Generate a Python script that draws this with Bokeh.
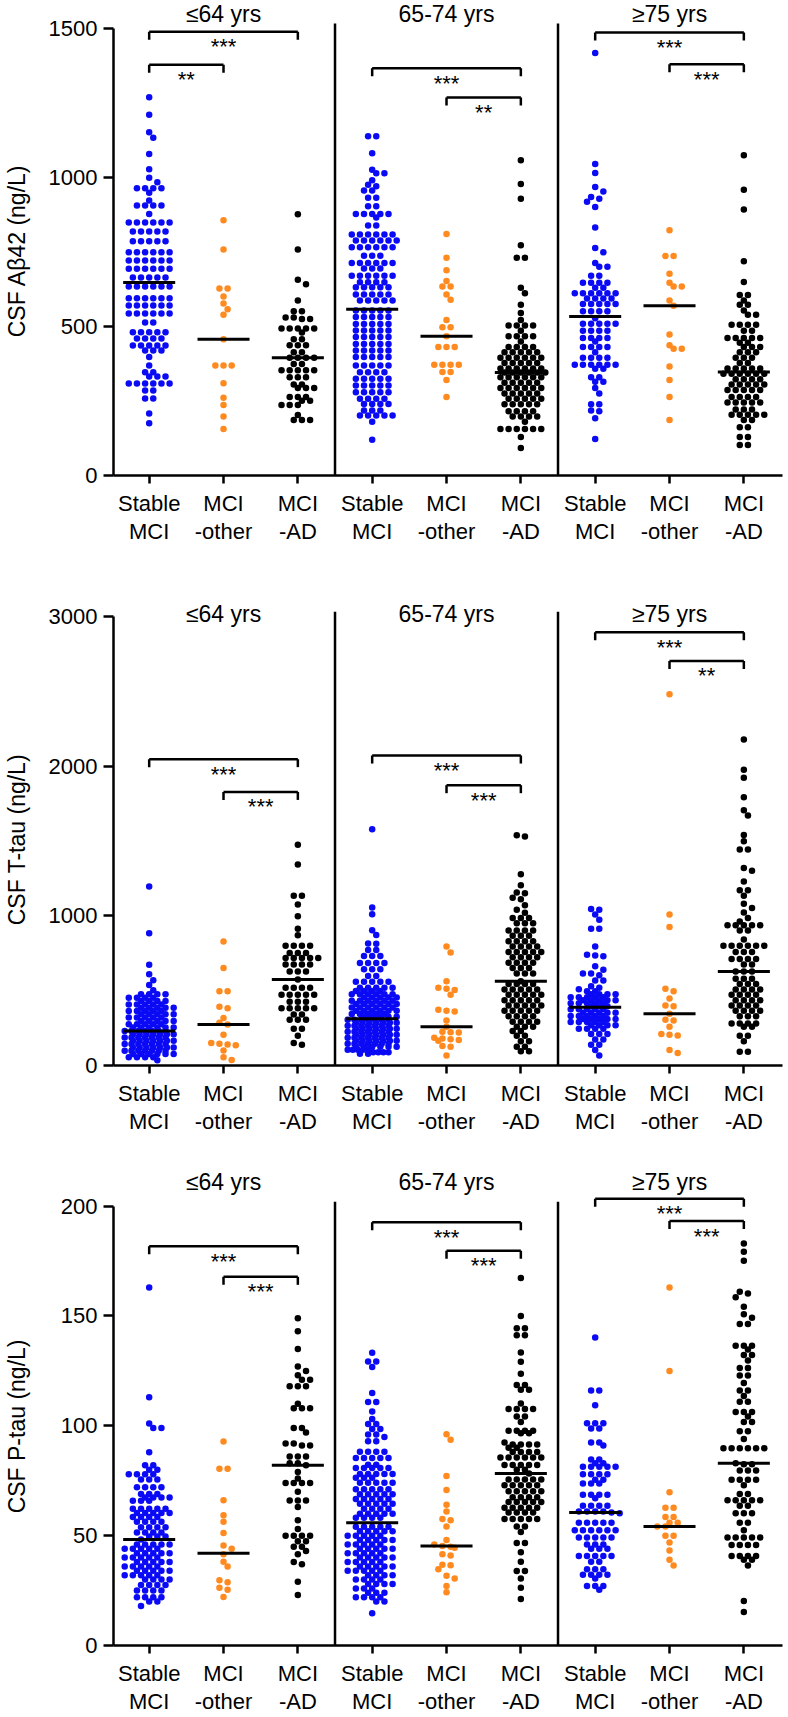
import numpy as np
from bokeh.plotting import figure
from bokeh.models import FixedTicker, Range1d
from bokeh.layouts import column
from bokeh.embed import file_html
from bokeh.resources import INLINE
from bokeh.core.properties import value

FONT = "Liberation Sans"

categories = ["Stable\nMCI", "MCI\n-other", "MCI\n-AD"] * 3
age_groups = ["≤64 yrs", "65-74 yrs", "≥75 yrs"]
group_colors = ["#0a0af5", "#ff8a1f", "#000000"] * 3

# ---------------- CSF Abeta42 (ng/L) ----------------
ab42_g1 = [1268, 1209, 1151, 1132, 1078, 1027, 998, 983, 963, 963, 963, 963, 948, 922, 905, 905, 905, 905, 877,
           848, 848, 848, 848, 848, 848, 818, 818, 818, 818, 818, 785, 785, 785, 785, 785,
           748, 748, 748, 748, 748, 748, 721, 721, 721, 721, 721, 721, 693, 693, 693, 693, 693, 693,
           664, 664, 664, 664, 664, 634, 634, 634, 634, 634, 634, 594, 594, 594, 594, 594, 594,
           570, 570, 570, 570, 570, 570, 543, 543, 543, 543, 543, 543, 513, 513, 480, 480, 480, 480, 480,
           459, 459, 459, 459, 436, 436, 436, 436, 436, 419, 419, 419, 397, 369, 346, 346, 332, 332, 332,
           308, 308, 308, 308, 308, 308, 285, 285, 258, 258, 208, 175]
ab42_g2 = [856, 758, 627, 627, 600, 577, 557, 539, 457, 369, 369, 369, 309, 261, 236, 198, 156]
ab42_g3 = [876, 758, 656, 641, 587, 551, 551, 530, 530, 525, 525, 493, 493, 493, 493, 493, 479, 457, 457,
           437, 437, 437, 413, 413, 395, 395, 395, 395, 374, 374, 353, 353, 353, 353, 353, 329, 329, 329,
           305, 305, 293, 293, 293, 263, 263, 263, 251, 251, 236, 236, 236, 203, 186, 186, 186]
ab42_g4 = [1137, 1137, 1080, 1025, 1013, 1013, 990, 975, 970, 955, 955, 931, 931, 903, 903,
           877, 877, 877, 877, 877, 865, 838, 838, 808, 808, 808, 808, 808, 808, 788, 788, 788, 788, 788, 788,
           765, 765, 765, 765, 765, 765, 737, 737, 737, 712, 712, 712, 712, 712, 712, 694, 694, 694,
           670, 670, 670, 670, 670, 670, 648, 648, 648, 648, 631, 631, 631, 631, 631, 607, 607, 607, 607, 607,
           587, 587, 587, 587, 587, 553, 553, 553, 553, 553, 531, 531, 531, 531, 531, 508, 508, 508, 508, 508,
           486, 486, 486, 486, 486, 464, 464, 464, 464, 464, 441, 441, 441, 441, 441, 419, 419, 419, 419, 419,
           397, 397, 397, 397, 397, 369, 369, 369, 369, 369, 346, 346, 346, 346, 324, 324, 324, 324, 324,
           302, 302, 302, 302, 302, 279, 279, 279, 279, 279, 257, 257, 257, 257, 240, 240, 240, 240,
           218, 218, 218, 201, 201, 201, 201, 201, 180, 120]
ab42_g5 = [810, 730, 688, 652, 634, 634, 607, 589, 521, 497, 497, 467, 431, 431, 431, 371, 371, 371, 371,
           347, 347, 320, 263]
ab42_g6 = [1057, 977, 928, 772, 730, 730, 629, 611, 572, 545, 521, 503, 503, 503, 503, 485, 467, 467, 467, 467,
           449, 431, 431, 431, 431, 413, 413, 413, 413, 413, 395, 395, 395, 395, 395, 395, 377, 377, 377, 377, 377,
           359, 359, 359, 359, 359, 359, 345, 345, 345, 345, 345, 345, 329, 329, 329, 329, 329, 329,
           311, 311, 311, 311, 311, 293, 293, 293, 293, 293, 293, 275, 275, 275, 275, 275, 257, 257, 257, 257, 257,
           239, 239, 239, 239, 239, 215, 215, 215, 215, 198, 198, 198, 198, 180, 156, 156, 156, 156, 156, 156, 129, 92]
ab42_g7 = [1416, 1044, 1014, 967, 952, 934, 928, 918, 900, 831, 763, 748, 712, 700, 700, 670, 670,
           646, 646, 646, 646, 629, 629, 611, 611, 611, 611, 611, 611, 593, 593, 593, 593, 575, 575, 575, 575, 575,
           551, 551, 551, 551, 527, 509, 509, 509, 509, 509, 485, 485, 485, 485, 461, 461, 461, 461, 449,
           431, 431, 431, 431, 413, 395, 395, 395, 395, 371, 371, 371, 371, 371, 371, 358, 358, 329, 329,
           314, 314, 293, 275, 239, 239, 218, 215, 192, 122]
ab42_g8 = [822, 736, 736, 676, 646, 634, 634, 587, 569, 473, 437, 425, 425, 365, 320, 263, 186]
ab42_g9 = [1074, 958, 892, 718, 649, 605, 605, 587, 572, 572, 553, 539, 539, 505, 505, 505, 505, 485, 485,
           461, 461, 461, 461, 461, 445, 445, 431, 431, 431, 413, 413, 413, 395, 395, 395, 377, 377,
           359, 359, 359, 359, 359, 341, 341, 341, 341, 341, 341, 323, 323, 323, 323, 305, 305, 305, 305, 305,
           287, 287, 287, 287, 287, 263, 263, 263, 263, 245, 245, 245, 245, 245, 221, 221, 221,
           204, 204, 204, 204, 204, 186, 186, 162, 162, 129, 129, 102, 102]
ab42_medians = [647, 457, 395, 557, 467, 345, 533, 569, 347]

# ---------------- CSF T-tau (ng/L) ----------------
ttau_g1 = [1195, 883, 672, 610, 570, 538, 503, 475, 475, 475, 475, 452, 452, 452, 452, 430, 430, 430, 430,
           408, 408, 408, 408, 408, 386, 386, 386, 386, 386, 364, 364, 364, 364, 364, 342, 342, 342, 342, 342,
           320, 320, 320, 320, 320, 298, 298, 298, 298, 298, 276, 276, 276, 276, 276, 254, 254, 254, 254, 254, 254,
           231, 231, 231, 231, 231, 231, 231, 209, 209, 209, 209, 209, 209, 209, 187, 187, 187, 187, 187, 187, 187,
           165, 165, 165, 165, 165, 165, 165, 143, 143, 143, 143, 143, 143, 143, 121, 121, 121, 121, 121, 121, 121,
           99, 99, 99, 99, 99, 99, 99, 77, 77, 77, 77, 77, 77, 55, 55, 55, 55, 35]
ttau_g2 = [828, 651, 496, 496, 393, 382, 317, 285, 274, 205, 150, 145, 140, 135, 100, 55, 36]
ttau_g3 = [1474, 1343, 1133, 1133, 1076, 997, 913, 870, 799, 799, 799, 799, 751, 751, 751, 718, 718, 718, 718, 718,
           675, 675, 675, 675, 627, 627, 627, 575, 520, 520, 520, 520, 472, 472, 472, 472, 472, 425, 425, 425,
           382, 382, 382, 382, 382, 341, 341, 305, 305, 305, 246, 246, 198, 150, 138]
ttau_g4 = [1578, 1055, 1010, 903, 872, 814, 813, 772, 772, 732, 732, 732, 685, 685, 685, 685, 643, 643, 643,
           598, 598, 560, 560, 560, 560, 560, 520, 520, 520, 520, 520, 498, 498, 498, 498,
           476, 476, 476, 476, 476, 476, 454, 454, 454, 454, 454, 432, 432, 432, 432, 432, 432,
           410, 410, 410, 410, 410, 410, 388, 388, 388, 388, 388, 388, 366, 366, 366, 366, 366, 366,
           344, 344, 344, 344, 344, 326, 326, 326, 326, 326,
           305, 305, 305, 305, 305, 305, 305, 285, 285, 285, 285, 285, 285, 285, 265, 265, 265, 265, 265, 265, 265,
           245, 245, 245, 245, 245, 245, 245, 225, 225, 225, 225, 225, 225, 225, 205, 205, 205, 205, 205, 205, 205,
           185, 185, 185, 185, 185, 185, 185, 165, 165, 165, 165, 165, 165, 165, 145, 145, 145, 145, 145, 145, 145,
           125, 125, 125, 125, 125, 125, 105, 105, 105, 105, 105, 88, 88, 88, 88, 79, 79]
ttau_g5 = [794, 754, 563, 520, 512, 505, 472, 372, 366, 360, 300, 258, 225, 222, 220, 185, 180, 175, 170, 165,
           130, 125, 67]
ttau_g6 = [1538, 1530, 1278, 1204, 1155, 1150, 1120, 1110, 1070, 1040, 1020, 985, 985, 985, 950, 950, 950,
           902, 902, 902, 902, 866, 866, 866, 830, 830, 830, 830, 794, 794, 794, 794, 758, 758, 758, 758, 758,
           723, 723, 723, 723, 687, 687, 687, 687, 651, 651, 651, 615, 615, 615, 563,
           544, 544, 544, 544, 508, 508, 508, 508, 508, 472, 472, 472, 472, 472, 436, 436, 436, 436, 436,
           401, 401, 401, 401, 401, 365, 365, 365, 365, 365, 329, 329, 329, 329, 293, 293, 293, 293,
           258, 258, 258, 230, 230, 198, 198, 162, 162, 126, 126, 95, 95]
ttau_g7 = [1045, 1040, 1009, 973, 913, 913, 794, 740, 735, 730, 663, 639, 615, 615, 603, 568, 568, 530, 520, 510,
           496, 496, 475, 475, 475, 475, 455, 455, 455, 455, 455, 435, 435, 435, 435, 435, 415, 415, 415, 415, 415,
           395, 395, 395, 375, 375, 375, 375, 375, 353, 353, 353, 353, 353, 331, 331, 331, 331, 331,
           310, 310, 310, 310, 310, 290, 290, 290, 290, 290, 268, 268, 268, 268, 246, 246, 246, 246,
           210, 210, 210, 174, 174, 138, 138, 103, 67]
ttau_g8 = [2480, 1009, 925, 513, 496, 448, 401, 395, 346, 305, 300, 258, 210, 205, 200, 103, 83]
ttau_g9 = [2177, 1975, 1922, 1791, 1705, 1670, 1539, 1498, 1443, 1443, 1319, 1300, 1228, 1171, 1171, 1133,
           1080, 1052, 1021, 985, 961, 937, 937, 937, 937, 937, 901, 901, 842, 799, 799, 799, 799, 799, 799,
           758, 758, 758, 711, 711, 711, 711, 675, 675, 627, 627, 627, 580, 580, 580, 544, 544, 544,
           508, 508, 508, 508, 472, 472, 472, 472, 436, 436, 436, 436, 401, 401, 401, 401, 365, 365, 365, 365,
           329, 329, 329, 281, 281, 281, 281, 258, 258, 198, 198, 162, 91, 91]
ttau_medians = [231, 274, 575, 312, 258, 563, 389, 346, 627]

# ---------------- CSF P-tau (ng/L) ----------------
ptau_g1 = [163, 113, 101, 99, 99, 88, 82, 82, 80, 80, 78, 78, 78, 78, 75.6, 75.6, 75.6, 72, 72, 72, 72,
           69, 69, 69, 67.4, 67.4, 67.4, 67.4, 65.9, 65.9, 65.9, 62.2, 62.2, 62.2, 62.2, 62.2,
           60.3, 60.3, 60.3, 60.3, 60.3, 58.5, 58.5, 58.5, 58.5, 56.3, 56.3, 56.3, 56.3, 53.8, 53.8, 53.8, 53.8,
           51.4, 51.4, 51.4, 51.4, 49.6, 49.6, 49.6, 48.3, 46, 46, 46, 46, 46, 44, 44, 44, 44, 44, 42, 42, 42, 42, 42,
           40, 40, 40, 40, 40, 38, 38, 38, 38, 38, 36, 36, 36, 36, 36, 34, 34, 34, 34, 34, 32, 32, 32, 32, 32,
           30, 30, 30, 30, 27.5, 27.5, 27.5, 27.5, 25, 25, 25, 25, 22, 22, 22, 22, 20, 20, 18]
ptau_g2 = [92.9, 80.5, 80.5, 66.1, 59.3, 56.3, 51.2, 45.5, 44.0, 41.5, 38.1, 36.0, 29.7, 28.8, 26.3, 25.4, 22.1]
ptau_g3 = [149, 143, 135, 127, 125, 123, 121, 121, 118, 118, 118, 110, 108, 108, 108, 99, 99, 97, 92, 92, 91, 91,
           86, 86, 86, 83, 83, 82, 79, 76, 74, 74, 74, 74, 70, 66, 66, 66, 63, 57, 53, 50, 50, 50, 50,
           47.5, 47.5, 45, 45, 43, 41.5, 38, 37, 29, 23]
ptau_g4 = [133.2, 129.3, 129.3, 126.8, 114.9, 110.8, 110.8, 106.5, 103.1, 100.8, 100.8, 98.6, 98.6, 96, 96, 94.9,
           93, 93, 88.2, 88.2, 88.2, 88.2, 85.3, 85.3, 85.3, 85.3, 85.3, 82.3, 82.3, 80.8, 80.8, 80.8, 80.8, 80.8,
           78.1, 78.1, 78.1, 78.1, 78.1, 76.4, 76.4, 76.4, 74.1, 74.1, 74.1, 74.1, 74.1, 71.1, 71.1, 71.1, 71.1, 71.1,
           68.9, 68.9, 68.9, 68.9, 68.9, 66.7, 66.7, 66.7, 66.7, 66.7, 64.5, 64.5, 64.5, 64.5, 64.5,
           62.2, 62.2, 62.2, 62.2, 60, 60, 60, 60, 60, 58.2, 58.2, 58.2, 58.2,
           54, 54, 54, 54, 54, 52, 52, 52, 52, 52, 50, 50, 50, 50, 50, 48, 48, 48, 48, 48, 46, 46, 46, 46, 46,
           44, 44, 44, 44, 44, 42, 42, 42, 42, 42, 40, 40, 40, 40, 40, 38, 38, 38, 38, 38, 36, 36, 36, 36, 36,
           34, 34, 34, 34, 34, 32, 32, 32, 32, 30, 30, 30, 30, 28, 28, 28, 28, 26, 26, 26, 24, 24, 24,
           22, 22, 22, 22, 20, 20, 14.7]
ptau_g5 = [96.1, 93.7, 77.1, 70.8, 64.1, 61.0, 57.6, 57.0, 54.2, 48, 46, 45.3, 44.9, 44.5, 41.5, 41.0, 36.8, 36.5,
           34.7, 31.7, 30.5, 27.1, 24.2]
ptau_g6 = [167.3, 150, 144.4, 144.4, 141.2, 141.2, 133.4, 129.2, 123.7, 118.6, 118.6, 116.4, 116.4, 110.2,
           107.6, 107.6, 107.6, 107.6, 104.2, 104.2, 101.7, 97.8, 97.8, 97.8, 97.8, 96.6, 96.6, 92.4,
           91.5, 91.5, 91.5, 91.5, 90, 90, 88.1, 88.1, 88.1, 88.1, 85.6, 85.6, 85.6, 85.6, 85.6, 85.6,
           82.2, 82.2, 82.2, 82.2, 82.2, 80, 80, 78.3, 75.6, 75.6, 75.6, 75.6, 75.6, 72.9, 72.9, 72.9, 72.9, 72.9,
           70.2, 70.2, 70.2, 70.2, 70.2, 67.5, 67.5, 67.5, 67.5, 65.3, 65.3, 65.3, 65.3, 65.3, 62.7, 62.7, 62.7, 62.7, 62.7,
           60.5, 60.5, 60.5, 60.5, 57.6, 57.6, 57.6, 57.6, 57.6, 54.2, 54.2, 51.7, 46.6, 46.6, 42.4, 38.1, 33.9, 33.9,
           30.5, 26.3, 21.2]
ptau_g7 = [140.2, 116.1, 116.1, 109.3, 101.2, 101.2, 101.2, 98.8, 98.8, 92.4, 92.4, 91, 84.7, 84.7, 83, 83,
           81.4, 81.4, 81.4, 81.4, 81.4, 78, 78, 78, 78, 75.4, 75.4, 73.7, 73.7, 73.7, 68.6, 68.6, 68.6, 68.6, 67,
           63.6, 63.6, 63.6, 63.6, 61, 61, 61, 61, 60.5, 60.2, 55.9, 55.9, 55.9, 55.9, 55.9,
           52.5, 52.5, 52.5, 52.5, 52.5, 52.5, 49.2, 49.2, 49.2, 49.2, 49.2, 46, 46, 46, 44, 44, 44,
           40.7, 40.7, 40.7, 40.7, 40.7, 38.1, 38.1, 34.7, 34.7, 34.7, 32.2, 32.2, 32.2, 32.2, 30.5,
           27.1, 27.1, 27.1, 25.4]
ptau_g8 = [163, 124.9, 69.8, 62.7, 62.7, 58.5, 58.5, 55.9, 55.9, 54.2, 54.2, 50, 50, 46.9, 43.2, 39, 36.4]
ptau_g9 = [183, 179.2, 175.1, 161, 160.2, 158.5, 154.2, 150.8, 149.2, 146.3, 146.3, 136.4, 136.4, 136.4, 134.7,
           132.2, 132.2, 129.7, 126.3, 126.3, 122.9, 122.9, 119.5, 116.1, 116.1, 113.6, 111, 111,
           106.3, 106.3, 106.3, 104.2, 101.7, 101.7, 97.5, 97.5, 94, 89.8, 89.8, 89.8, 89.8, 89.8, 89.8, 83,
           82.5, 82.5, 79.7, 79.7, 79.7, 75.4, 75.4, 75.4, 75.4, 72.9, 69, 69, 66.1, 66.1, 66.1, 66.1, 66.1,
           63.6, 63.6, 60.2, 60.2, 60.2, 55.9, 55.9, 52.5, 49.2, 49.2, 49.2, 49.2, 49.2, 45.8, 45.8, 45.8, 45.8,
           40.7, 40.7, 40.7, 40.7, 39, 39, 36.4, 20.3, 15.3]
ptau_medians = [48.3, 42, 82, 55.9, 45.3, 78.3, 60.5, 54.2, 83]

# significance brackets: (from group, to group, bracket level, label)
ab42_brackets = [(1, 3, 1488, "***"), (1, 2, 1377, "**"), (4, 6, 1365, "***"), (5, 6, 1267, "**"),
                 (7, 9, 1485, "***"), (8, 9, 1379, "***")]
ttau_brackets = [(1, 3, 2046, "***"), (2, 3, 1827, "***"), (4, 6, 2070, "***"), (5, 6, 1872, "***"),
                 (7, 9, 2893, "***"), (8, 9, 2702, "**")]
ptau_brackets = [(1, 3, 181.7, "***"), (2, 3, 167.8, "***"), (4, 6, 192.7, "***"), (5, 6, 179.7, "***"),
                 (7, 9, 203.4, "***"), (8, 9, 193.2, "***")]

ab42_ticks = [0, 500, 1000, 1500]
ttau_ticks = [0, 1000, 2000, 3000]
ptau_ticks = [0, 50, 100, 150, 200]

# ---------------- layout helpers ----------------
FIG_W = 788
BORDER_L = 110
BORDER_R = 6
X0, X1 = 0.52, 9.52
PX_PER_X = (FIG_W - BORDER_L - BORDER_R) / (X1 - X0)
MAX_HALF = 24.7
NBSP = "\u00a0"


def swarm_offsets(vals, scale, step=8.2, dmin=6.2, thresh=2.6):
    v = np.asarray(vals, dtype=float)
    ypx = v * scale
    order = np.argsort(-v, kind="stable")
    rows = []
    for i in order:
        if rows and abs(ypx[rows[-1][0]] - ypx[i]) <= thresh:
            rows[-1].append(i)
        else:
            rows.append([i])
    xs = np.zeros(len(v))
    placed = []
    for row in rows:
        m = len(row)
        if m <= 6:
            base = [(j - (m - 1) / 2.0) * step for j in range(m)]
        else:
            base = list(np.linspace(-2.5 * step, 2.5 * step, m))
        best = None
        for shift in (0.0, step / 2, -step / 2, step, -step):
            cand = [b + shift for b in base]
            if shift != 0.0 and max(abs(c) for c in cand) > MAX_HALF:
                continue
            pen = 0.0
            for k, i in enumerate(row):
                for (px, py) in placed:
                    dy = ypx[i] - py
                    if abs(dy) >= dmin:
                        continue
                    d = np.hypot(cand[k] - px, dy)
                    if d < dmin:
                        pen += dmin - d
            score = pen + 0.02 * abs(shift)
            if best is None or score < best[0]:
                best = (score, cand)
        for k, i in enumerate(row):
            xs[i] = best[1][k]
            placed.append((best[1][k], ypx[i]))
    return xs / PX_PER_X


def make_panel(height, border_bottom, scale, ticks, ylabel, groups, medians, brackets,
               title_y, label_standoff):
    frame_h = height - border_bottom
    y_end = frame_h / scale
    p = figure(width=FIG_W, height=height, x_range=Range1d(X0, X1), y_range=Range1d(0, y_end),
               output_backend="svg", toolbar_location=None,
               min_border_left=BORDER_L, min_border_right=BORDER_R,
               min_border_top=0, min_border_bottom=border_bottom)
    p.outline_line_color = None
    p.background_fill_color = "white"
    p.xgrid.visible = False
    p.ygrid.visible = False

    xa = p.xaxis[0]
    xa.ticker = FixedTicker(ticks=list(range(1, 10)))
    xa.major_label_overrides = {i + 1: categories[i] for i in range(9)}
    xa.minor_tick_line_color = None
    xa.major_tick_in = 0
    xa.major_tick_out = 8
    xa.axis_line_width = 2.5
    xa.major_tick_line_width = 2.5
    xa.axis_line_color = "black"
    xa.major_tick_line_color = "black"
    xa.major_label_text_font = FONT
    xa.major_label_text_font_size = "22px"
    xa.major_label_text_line_height = 1.15
    xa.major_label_text_color = "black"
    xa.major_label_standoff = 7
    xa.axis_label_standoff = 0

    ya = p.yaxis[0]
    ya.ticker = FixedTicker(ticks=ticks)
    ya.bounds = (0, ticks[-1])
    ya.minor_tick_line_color = None
    ya.major_tick_in = 0
    ya.major_tick_out = 10
    ya.axis_line_width = 2.5
    ya.major_tick_line_width = 2.5
    ya.axis_line_color = "black"
    ya.major_tick_line_color = "black"
    ya.major_label_text_font = FONT
    ya.major_label_text_font_size = "22px"
    ya.major_label_text_color = "black"
    ya.major_label_standoff = 6

    # the axis title is centred on the frame by Bokeh; pad its (upper) end with
    # no-break spaces so that the visible text sits centred on the drawn axis line
    shift_px = frame_h / 2.0 - (ticks[-1] * scale) / 2.0
    n_pad = int(round(2.0 * shift_px / (0.278 * 23)))
    ya.axis_label = ylabel + NBSP * n_pad
    ya.axis_label_text_font = FONT
    ya.axis_label_text_font_size = "23px"
    ya.axis_label_text_font_style = "normal"
    ya.axis_label_text_color = "black"
    ya.axis_label_standoff = label_standoff

    # dots
    for gi, vals in enumerate(groups):
        g = gi + 1
        offs = swarm_offsets(vals, scale)
        p.scatter(x=g + offs, y=np.asarray(vals, dtype=float), size=6.5,
                  fill_color=group_colors[gi], line_color=None)

    # medians
    gx = np.arange(1, 10)
    p.segment(x0=gx - 0.35, x1=gx + 0.35, y0=medians, y1=medians, line_color="black", line_width=3)

    # dividers between age groups
    top = ticks[-1] * 1.01
    p.segment(x0=[3.5, 6.5], x1=[3.5, 6.5], y0=[0, 0], y1=[top, top], line_color="black", line_width=2.5)

    # significance brackets
    arm = 8.0 / scale
    bx0, bx1, by0, by1, sx, sy, st = [], [], [], [], [], [], []
    for (a, b, lvl, lab) in brackets:
        bx0 += [a, a, b]
        bx1 += [b, a, b]
        by0 += [lvl, lvl, lvl]
        by1 += [lvl, lvl - arm, lvl - arm]
        sx.append((a + b) / 2.0)
        sy.append(lvl - 15.0 / scale)
        st.append(lab)
    p.segment(x0=bx0, x1=bx1, y0=by0, y1=by1, line_color="black", line_width=2.5)
    p.text(x=sx, y=sy, text=st, text_align="center", text_baseline="alphabetic",
           text_font=value(FONT), text_font_size="22px", text_color="black")

    # age group titles
    p.text(x=[2, 5, 8], y=[title_y] * 3, text=age_groups, text_align="center", text_baseline="middle",
           text_font=value(FONT), text_font_size="23px", text_color="black")
    return p


p1 = make_panel(575, 100, 0.2983, ab42_ticks, "CSF Aβ42 (ng/L)",
                [ab42_g1, ab42_g2, ab42_g3, ab42_g4, ab42_g5, ab42_g6, ab42_g7, ab42_g8, ab42_g9],
                ab42_medians, ab42_brackets, 1547, 16)
p2 = make_panel(568, 78, 0.14974, ttau_ticks, "CSF T-tau (ng/L)",
                [ttau_g1, ttau_g2, ttau_g3, ttau_g4, ttau_g5, ttau_g6, ttau_g7, ttau_g8, ttau_g9],
                ttau_medians, ttau_brackets, 3012, 16)
p3 = make_panel(574, 72, 2.197, ptau_ticks, "CSF P-tau (ng/L)",
                [ptau_g1, ptau_g2, ptau_g3, ptau_g4, ptau_g5, ptau_g6, ptau_g7, ptau_g8, ptau_g9],
                ptau_medians, ptau_brackets, 211, 28)

layout = column(p1, p2, p3, spacing=0)
open("out.html", "w").write(file_html(layout, INLINE))
